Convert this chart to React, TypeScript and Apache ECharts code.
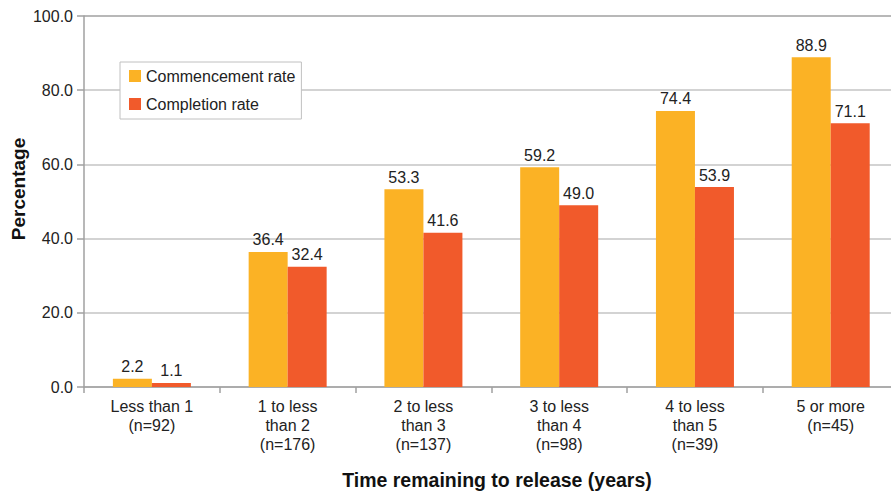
import React, { useEffect, useRef } from "react";
import * as echarts from "echarts";

const categories = [
  "Less than 1\n(n=92)",
  "1 to less\nthan 2\n(n=176)",
  "2 to less\nthan 3\n(n=137)",
  "3 to less\nthan 4\n(n=98)",
  "4 to less\nthan 5\n(n=39)",
  "5 or more\n(n=45)",
];
const commencementRate = [2.2, 36.4, 53.3, 59.2, 74.4, 88.9];
const completionRate = [1.1, 32.4, 41.6, 49.0, 53.9, 71.1];
const seriesNames = ["Commencement rate", "Completion rate"];
const yTicks = { min: 0, max: 100, interval: 20 };
const yTitle = "Percentage";
const xTitle = "Time remaining to release (years)";

const FONT = "'Liberation Sans Narrow', 'Arial Narrow', 'Liberation Sans', Arial, sans-serif";
const BOLD_FONT = "'Liberation Sans', Arial, sans-serif";
const ORANGE = "#FBB225";
const RED = "#F15A2B";
const FS = 16;

export default function App() {
  const ref = useRef<HTMLDivElement>(null);
  useEffect(() => {
    if (!ref.current) return;
    const chart = echarts.init(ref.current, null, { renderer: "svg" });
    const labelCfg = {
      show: true,
      position: "top" as const,
      distance: 4,
      fontFamily: FONT,
      fontSize: FS,
      color: "#222",
      formatter: (p: any) => Number(p.value).toFixed(1),
    };
    chart.setOption({
      animation: false,
      backgroundColor: "#fff",
      grid: { left: 84, top: 16, right: 1.4, bottom: 106, containLabel: false },
      legend: {
        orient: "vertical",
        left: 120,
        top: 62,
        padding: [5, 6, 6, 9],
        itemWidth: 12,
        itemHeight: 12,
        itemGap: 10,
        borderColor: "#c0c0c0",
        borderWidth: 1,
        icon: "rect",
        backgroundColor: "#fff",
        textStyle: { fontFamily: FONT, fontSize: FS, color: "#222", lineHeight: 18 },
        data: seriesNames,
      },
      xAxis: {
        type: "category",
        data: categories,
        axisLine: { lineStyle: { color: "#a0a0a0", width: 1.5 } },
        axisTick: { show: true, length: 6, lineStyle: { color: "#a0a0a0", width: 1.5 } },
        axisLabel: {
          fontFamily: FONT,
          fontSize: FS,
          lineHeight: 19,
          color: "#222",
          margin: 10,
          interval: 0,
        },
      },
      yAxis: {
        type: "value",
        min: yTicks.min,
        max: yTicks.max,
        interval: yTicks.interval,
        axisLine: { show: true, lineStyle: { color: "#a0a0a0", width: 1.5 } },
        axisTick: { show: true, length: 7, lineStyle: { color: "#a0a0a0", width: 1.5 } },
        axisLabel: {
          fontFamily: FONT,
          fontSize: FS,
          color: "#222",
          margin: 11,
          formatter: (v: number) => v.toFixed(1),
        },
        splitLine: {
          lineStyle: {
            color: ["#c4c4c4", "#c4c4c4", "#c4c4c4", "#c4c4c4", "#c4c4c4", "#a0a0a0"],
            width: 1.5,
          },
        },
      },
      graphic: [
        {
          type: "text",
          x: 18.5,
          y: 189,
          rotation: Math.PI / 2,
          style: {
            text: yTitle,
            fontFamily: BOLD_FONT,
            fontWeight: "bold",
            fontSize: 19,
            fill: "#111",
            align: "center",
            verticalAlign: "middle",
          },
        },
        {
          type: "text",
          x: 497,
          y: 480,
          style: {
            text: xTitle,
            fontFamily: BOLD_FONT,
            fontWeight: "bold",
            fontSize: 19.5,
            fill: "#111",
            align: "center",
            verticalAlign: "middle",
          },
        },
      ],
      series: [
        {
          name: seriesNames[0],
          type: "bar",
          data: commencementRate,
          barWidth: 39,
          barGap: "0%",
          itemStyle: { color: ORANGE },
          label: labelCfg,
        },
        {
          name: seriesNames[1],
          type: "bar",
          data: completionRate,
          barWidth: 39,
          barGap: "0%",
          itemStyle: { color: RED },
          label: labelCfg,
        },
      ],
    });
    return () => chart.dispose();
  }, []);
  return (
    <div style={{ position: "fixed", left: 0, top: 0, width: 891, height: 493, overflow: "hidden", background: "#fff" }}>
      <div ref={ref} style={{ width: 900, height: 493 }} />
    </div>
  );
}
